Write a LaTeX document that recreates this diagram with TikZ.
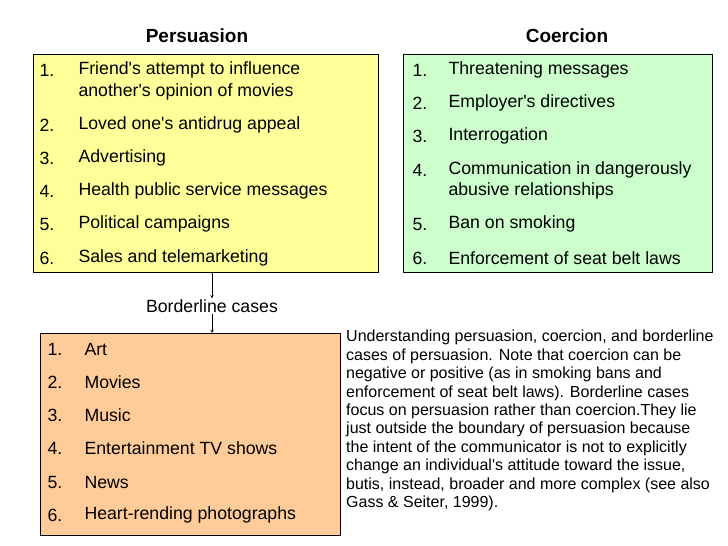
\documentclass[tikz,border=0pt]{standalone}
\usepackage{fontspec}
\setmainfont{Liberation Sans}[Ligatures=TeXOff]
\begin{document}
\begin{tikzpicture}[x=1pt,y=-1pt,
  box/.style={draw=black,line width=0.6pt},
  it/.style={anchor=west,font=\fontsize{17.7}{20}\selectfont,align=left},
  ttl/.style={font=\fontsize{19}{22}\selectfont\bfseries},
  arr/.style={-stealth,line width=0.5pt}]
\definecolor{py}{RGB}{255,255,153}
\definecolor{cg}{RGB}{204,255,204}
\definecolor{bo}{RGB}{255,204,153}
\useasboundingbox (0,0) rectangle (728,546);
\node[ttl] (tp) at (197,36) {Persuasion};
\node[ttl] (tc) at (567,36) {Coercion};
\draw[box,fill=py] (33,54) rectangle (378,272);
\coordinate (pb) at (212,272);
\draw[box,fill=cg] (403,54) rectangle (712,272);
\draw[box,fill=bo] (40,333) rectangle (340,535);
% persuasion items
\foreach \n/\y/\t in {1/70/{Friend's attempt to influence},2/125/{Loved one's antidrug appeal},3/158/{Advertising},4/191/{Health public service messages},5/224/{Political campaigns},6/258/{Sales and telemarketing}}{
  \node[it] at (36,\y) {\n.}; \node[it] at (75,\y) {\t};}
\node[it] at (75,92) {another's opinion of movies};
% coercion items
\foreach \n/\y/\t in {1/70/{Threatening messages},2/103/{Employer's directives},3/136/{Interrogation},4/170/{Communication in dangerously},5/224/{Ban on smoking},6/258/{Enforcement of seat belt laws}}{
  \node[it] at (409,\y) {\n.}; \node[it] at (445,\y) {\t};}
\node[it] at (445,191) {abusive relationships};
% borderline items
\foreach \n/\y/\t in {1/349/{Art},2/382/{Movies},3/415/{Music},4/448/{Entertainment TV shows},5/482/{News},6/515/{Heart-rending photographs}}{
  \node[it] at (44,\y) {\n.}; \node[it] at (81,\y) {\t};}
\node[font=\fontsize{17.7}{20}\selectfont,inner sep=1pt] (bl) at (212,306) {Borderline cases};
\coordinate (ob) at (212,333);
\draw[arr] (pb) -- (bl.north);
\draw[arr] (bl.south) -- (ob);
\node[anchor=north west,inner sep=0pt,align=left,font=\fontsize{16}{18.4}\selectfont] (cap) at (346,330) {Understanding persuasion, coercion, and borderline\\cases of persuasion. Note that coercion can be\\negative or positive (as in smoking bans and\\enforcement of seat belt laws). Borderline cases\\focus on persuasion rather than coercion.They lie\\just outside the boundary of persuasion because\\the intent of the communicator is not to explicitly\\change an individual's attitude toward the issue,\\butis, instead, broader and more complex (see also\\Gass \& Seiter, 1999).};
\end{tikzpicture}
\end{document}
